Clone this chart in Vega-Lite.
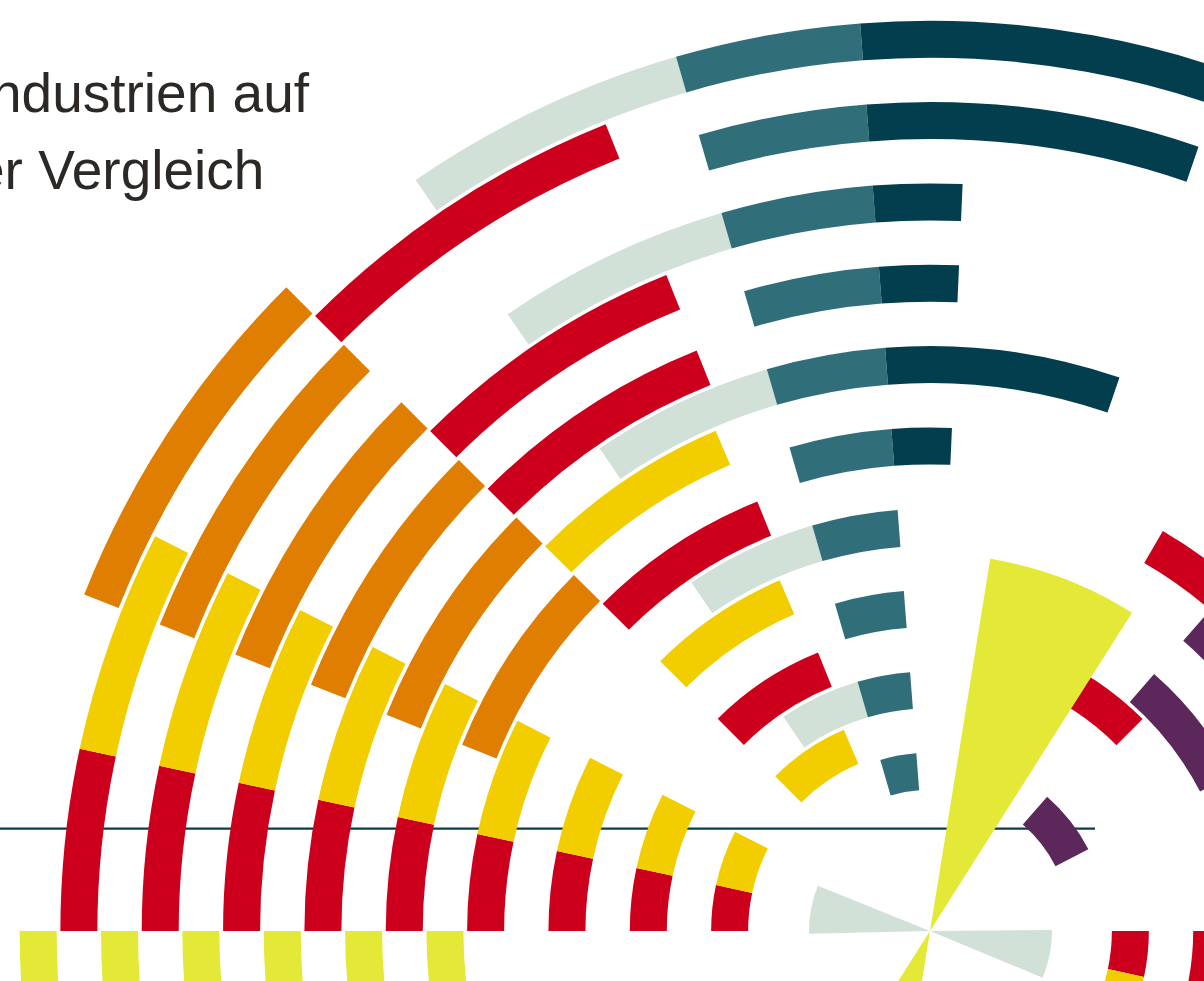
{
  "$schema": "https://vega.github.io/schema/vega-lite/v6.json",
  "width": 1204,
  "height": 981,
  "autosize": {"type": "none"},
  "padding": 0,
  "background": "#ffffff",
  "config": {"view": {"stroke": null}},
  "datasets": {
    "horizon": [{"x": -930, "x2": 165, "y": 102.3}],
    "rings": [
      {"ring": 2, "t0": -90, "t1": -77.9, "c": "red"},
      {"ring": 2, "t0": -77.9, "t1": -63, "c": "yellow"},
      {"ring": 2, "t0": -45, "t1": -21.9, "c": "red"},
      {"ring": 4, "t0": -90, "t1": -77.9, "c": "red"},
      {"ring": 4, "t0": -77.9, "t1": -63, "c": "yellow"},
      {"ring": 6, "t0": -90, "t1": -77.9, "c": "red"},
      {"ring": 6, "t0": -77.9, "t1": -63, "c": "yellow"},
      {"ring": 6, "t0": -45, "t1": -21.9, "c": "red"},
      {"ring": 8, "t0": -90, "t1": -77.9, "c": "red"},
      {"ring": 8, "t0": -77.9, "t1": -63, "c": "yellow"},
      {"ring": 8, "t0": -45, "t1": -21.9, "c": "red"},
      {"ring": 10, "t0": -90, "t1": -77.9, "c": "red"},
      {"ring": 10, "t0": -77.9, "t1": -63, "c": "yellow"},
      {"ring": 10, "t0": -45, "t1": -23.2, "c": "yellow"},
      {"ring": 12, "t0": -90, "t1": -77.9, "c": "red"},
      {"ring": 12, "t0": -77.9, "t1": -63, "c": "yellow"},
      {"ring": 12, "t0": -45, "t1": -21.9, "c": "red"},
      {"ring": 12, "t0": 30.2, "t1": 60, "c": "red"},
      {"ring": 14, "t0": -90, "t1": -77.9, "c": "red"},
      {"ring": 14, "t0": -77.9, "t1": -63, "c": "yellow"},
      {"ring": 14, "t0": -45, "t1": -23.2, "c": "yellow"},
      {"ring": 16, "t0": -90, "t1": -77.9, "c": "red"},
      {"ring": 16, "t0": -77.9, "t1": -63, "c": "yellow"},
      {"ring": 16, "t0": -45, "t1": -21.9, "c": "red"},
      {"ring": 16, "t0": 21.9, "t1": 45.1, "c": "red"},
      {"ring": 16, "t0": 90, "t1": 102.1, "c": "red"},
      {"ring": 16, "t0": 102.1, "t1": 117, "c": "yellow"},
      {"ring": 18, "t0": -90, "t1": -77.9, "c": "red"},
      {"ring": 18, "t0": -77.9, "t1": -63, "c": "yellow"},
      {"ring": 18, "t0": -45, "t1": -23.2, "c": "yellow"},
      {"ring": 18, "t0": 90, "t1": 102.1, "c": "red"},
      {"ring": 18, "t0": 102.1, "t1": 117, "c": "yellow"},
      {"ring": 1, "t0": -110, "t1": -90, "c": "lime"},
      {"ring": 1, "t0": -68.3, "t1": -45, "c": "orange"},
      {"ring": 1, "t0": -34.4, "t1": -16.2, "c": "pale"},
      {"ring": 1, "t0": -16.2, "t1": -4.4, "c": "teal"},
      {"ring": 1, "t0": -4.4, "t1": 25, "c": "dark"},
      {"ring": 3, "t0": -110, "t1": -90, "c": "lime"},
      {"ring": 3, "t0": -68.3, "t1": -45, "c": "orange"},
      {"ring": 3, "t0": -16.2, "t1": -4.4, "c": "teal"},
      {"ring": 3, "t0": -4.4, "t1": 18.9, "c": "dark"},
      {"ring": 5, "t0": -110, "t1": -90, "c": "lime"},
      {"ring": 5, "t0": -68.3, "t1": -45, "c": "orange"},
      {"ring": 5, "t0": -34.4, "t1": -16.2, "c": "pale"},
      {"ring": 5, "t0": -16.2, "t1": -4.4, "c": "teal"},
      {"ring": 5, "t0": -4.4, "t1": 2.5, "c": "dark"},
      {"ring": 7, "t0": -110, "t1": -90, "c": "lime"},
      {"ring": 7, "t0": -68.3, "t1": -45, "c": "orange"},
      {"ring": 7, "t0": -16.2, "t1": -4.4, "c": "teal"},
      {"ring": 7, "t0": -4.4, "t1": 2.5, "c": "dark"},
      {"ring": 9, "t0": -110, "t1": -90, "c": "lime"},
      {"ring": 9, "t0": -68.3, "t1": -45, "c": "orange"},
      {"ring": 9, "t0": -34.4, "t1": -16.2, "c": "pale"},
      {"ring": 9, "t0": -16.2, "t1": -4.4, "c": "teal"},
      {"ring": 9, "t0": -4.4, "t1": 18.9, "c": "dark"},
      {"ring": 11, "t0": -110, "t1": -90, "c": "lime"},
      {"ring": 11, "t0": -68.3, "t1": -45, "c": "orange"},
      {"ring": 11, "t0": -16.2, "t1": -4.4, "c": "teal"},
      {"ring": 11, "t0": -4.4, "t1": 2.5, "c": "dark"},
      {"ring": 13, "t0": -34.4, "t1": -16.2, "c": "pale"},
      {"ring": 13, "t0": -16.2, "t1": -4.4, "c": "teal"},
      {"ring": 13, "t0": 41.1, "t1": 62.7, "c": "purple"},
      {"ring": 15, "t0": -16.2, "t1": -4.4, "c": "teal"},
      {"ring": 15, "t0": 41.1, "t1": 62.7, "c": "purple"},
      {"ring": 17, "t0": -34.4, "t1": -16.2, "c": "pale"},
      {"ring": 17, "t0": -16.2, "t1": -4.4, "c": "teal"},
      {"ring": 19, "t0": -16.2, "t1": -4.4, "c": "teal"},
      {"ring": 19, "t0": 41.1, "t1": 62.7, "c": "purple"}
    ],
    "wedges": [
      {"t0": 9.2, "t1": 32.4, "len": 37.7, "c": "lime"},
      {"t0": -170.8, "t1": -147.6, "len": 37.7, "c": "lime"},
      {"t0": -91.3, "t1": -68, "len": 12.1, "c": "pale"},
      {"t0": 89.5, "t1": 112.5, "len": 12.2, "c": "pale"}
    ],
    "title": [
      {"txt": "ndustrien auf", "x": -621, "y": 819.3},
      {"txt": "er Vergleich", "x": -665.6, "y": 741.7}
    ]
  },
  "resolve": {"scale": {"radius": "independent"}},
  "layer": [
    {
      "data": {"name": "horizon"},
      "mark": {"type": "rule", "color": "#0b3d4b", "strokeWidth": 2.3},
      "encoding": {
        "x": {"field": "x", "type": "quantitative", "scale": {"domain": [-930, 274], "nice": false, "zero": false}, "axis": null},
        "x2": {"field": "x2"},
        "y": {"field": "y", "type": "quantitative", "scale": {"domain": [-50, 931], "nice": false, "zero": false}, "axis": null}
      }
    },
    {
      "data": {"name": "rings"},
      "mark": {"type": "arc", "radius2Offset": -37},
      "encoding": {
        "x": {"datum": 0, "type": "quantitative", "scale": {"domain": [-930, 274], "nice": false, "zero": false}, "axis": null},
        "y": {"datum": 0, "type": "quantitative", "scale": {"domain": [-50, 931], "nice": false, "zero": false}, "axis": null},
        "theta": {"field": "t0", "type": "quantitative", "stack": null, "scale": {"domain": [-180, 180], "range": [-3.14159265, 3.14159265]}},
        "theta2": {"field": "t1"},
        "radius": {"field": "ring", "type": "quantitative", "scale": {"type": "linear", "zero": false, "nice": false, "domain": [1, 19], "range": [910.3, 178.2]}},
        "radius2": {"field": "ring"},
        "color": {"field": "c", "type": "nominal", "legend": null,
          "scale": {"domain": ["dark", "teal", "pale", "red", "yellow", "orange", "lime", "purple"],
                    "range": ["#023e4d", "#306f79", "#d1e1d8", "#cc001d", "#f2cd00", "#df7e00", "#e3e936", "#5c285c"]}}
      }
    },
    {
      "data": {"name": "wedges"},
      "mark": {"type": "arc"},
      "encoding": {
        "x": {"datum": 0, "type": "quantitative", "scale": {"domain": [-930, 274], "nice": false, "zero": false}, "axis": null},
        "y": {"datum": 0, "type": "quantitative", "scale": {"domain": [-50, 931], "nice": false, "zero": false}, "axis": null},
        "theta": {"field": "t0", "type": "quantitative", "stack": null, "scale": {"domain": [-180, 180], "range": [-3.14159265, 3.14159265]}},
        "theta2": {"field": "t1"},
        "radius": {"field": "len", "type": "quantitative", "scale": {"type": "linear", "zero": true, "nice": false, "domain": [0, 100], "range": [0, 1000]}},
        "color": {"field": "c", "type": "nominal", "legend": null,
          "scale": {"domain": ["dark", "teal", "pale", "red", "yellow", "orange", "lime", "purple"],
                    "range": ["#023e4d", "#306f79", "#d1e1d8", "#cc001d", "#f2cd00", "#df7e00", "#e3e936", "#5c285c"]}}
      }
    },
    {
      "data": {"name": "title"},
      "mark": {"type": "text", "align": "right", "baseline": "alphabetic", "font": "Liberation Sans", "fontSize": 55, "color": "#2b2826"},
      "encoding": {
        "x": {"field": "x", "type": "quantitative", "scale": {"domain": [-930, 274], "nice": false, "zero": false}, "axis": null},
        "y": {"field": "y", "type": "quantitative", "scale": {"domain": [-50, 931], "nice": false, "zero": false}, "axis": null},
        "text": {"field": "txt"}
      }
    }
  ]
}
